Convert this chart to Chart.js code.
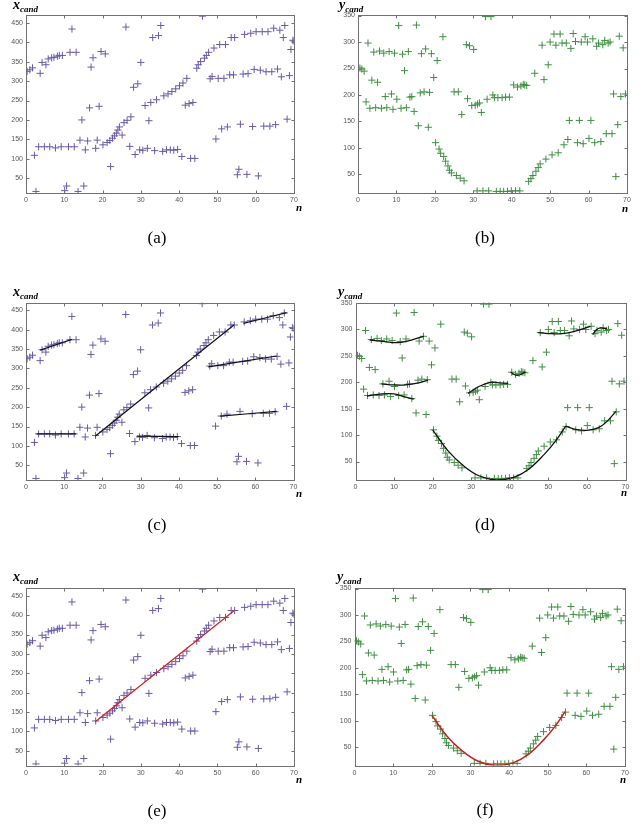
<!DOCTYPE html>
<html>
<head>
<meta charset="utf-8">
<script src="https://cdn.jsdelivr.net/npm/chart.js@4.4.1/dist/chart.umd.min.js"></script>
<style>
body { margin: 0; background: #fff; width: 644px; height: 827px; position: relative; overflow: hidden; }
canvas { position: absolute; }
.lbl { position: absolute; font-family: "Liberation Serif", "DejaVu Serif", serif; font-style: italic; font-weight: bold; color: #000; white-space: nowrap; line-height: 1; }
.lbl.t { font-size: 14px; }
.lbl.t sub { font-size: 9px; vertical-align: -3px; }
.lbl.n { font-size: 11px; }
.cap { position: absolute; font-family: "Liberation Serif", serif; font-size: 17px; transform: translateX(-50%); line-height: 1; }
</style>
</head>
<body>
<canvas id="pa" width="322" height="270" style="left:0;top:0"></canvas>
<canvas id="pb" width="322" height="270" style="left:322px;top:0"></canvas>
<canvas id="pc" width="322" height="270" style="left:0;top:270px"></canvas>
<canvas id="pd" width="322" height="270" style="left:322px;top:270px"></canvas>
<canvas id="pe" width="322" height="287" style="left:0;top:540px"></canvas>
<canvas id="pf" width="322" height="287" style="left:322px;top:540px"></canvas>

<div class="lbl t" style="left:13px;top:-2px">x<sub>cand</sub></div>
<div class="lbl t" style="left:339px;top:-2px">y<sub>cand</sub></div>
<div class="lbl t" style="left:13px;top:285px">x<sub>cand</sub></div>
<div class="lbl t" style="left:338px;top:285px">y<sub>cand</sub></div>
<div class="lbl t" style="left:13px;top:570px">x<sub>cand</sub></div>
<div class="lbl t" style="left:337px;top:570px">y<sub>cand</sub></div>

<div class="lbl n" style="left:296px;top:202px">n</div>
<div class="lbl n" style="left:622px;top:203px">n</div>
<div class="lbl n" style="left:296px;top:488px">n</div>
<div class="lbl n" style="left:621px;top:487px">n</div>
<div class="lbl n" style="left:296px;top:774px">n</div>
<div class="lbl n" style="left:620px;top:774px">n</div>

<div class="cap" style="left:157px;top:229px">(a)</div>
<div class="cap" style="left:485px;top:229px">(b)</div>
<div class="cap" style="left:157px;top:516px">(c)</div>
<div class="cap" style="left:485px;top:516px">(d)</div>
<div class="cap" style="left:157px;top:802px">(e)</div>
<div class="cap" style="left:485px;top:801px">(f)</div>

<script>
/* ================= TICKS ================= */
const nTicks = [0, 10, 20, 30, 40, 50, 60, 70];
const xCandTicks = [50, 100, 150, 200, 250, 300, 350, 400, 450];
const yCandTicks = [50, 100, 150, 200, 250, 300, 350];

/* ================= X CANDIDATES ================= */
const nX = [
    0.3, 1.0, 1.7, 2.2, 2.6, 3.3, 3.7, 4.2, 4.8, 5.2, 5.8, 6.2, 6.7, 7.3, 7.7, 8.2, 8.7, 9.2, 9.5,
    10.1, 10.6, 11.1, 11.5, 12.0, 12.6, 13.1, 13.6, 14.1, 14.6, 15.1, 15.5, 16.1, 16.6, 17.0, 17.5,
    18.2, 18.6, 19.1, 19.6, 20.1, 20.7, 21.2, 21.9, 22.1, 22.6, 23.1, 23.6, 24.0, 24.4, 25.1, 25.6,
    26.1, 26.4, 27.1, 27.4, 28.1, 28.5, 29.2, 29.7, 30.0, 30.5, 31.1, 31.7, 32.1, 32.6, 33.1, 33.6,
    34.1, 34.6, 35.2, 35.7, 36.0, 36.7, 37.1, 37.7, 38.1, 38.6, 39.1, 39.6, 40.1, 40.7, 41.0, 41.6,
    42.0, 42.6, 43.0, 43.6, 44.1, 44.6, 45.0, 45.6, 46.1, 46.6, 47.1, 47.7, 48.1, 48.6, 49.1, 49.6,
    50.2, 50.6, 51.1, 51.7, 52.1, 52.6, 53.2, 53.6, 54.2, 54.5, 55.2, 55.6, 56.0, 56.7, 57.1, 57.7,
    58.0, 58.7, 59.2, 59.6, 60.1, 60.7, 61.2, 61.7, 62.1, 62.7, 63.2, 63.7, 64.2, 64.7, 65.2, 65.7,
    66.3, 66.7, 67.2, 67.6, 68.2, 68.8, 69.2, 69.7, 70.0
];
const xCand = [
    325, 329, 334, 109, 16, 131, 320, 348, 131, 342, 357, 131, 360, 361, 128, 364, 366, 131, 366,
    18, 30, 131, 374, 434, 131, 374, 16, 148, 200, 30, 123, 146, 231, 336, 360,
    127, 148, 235, 376, 136, 370, 142, 147, 80, 153, 159, 166, 174, 182, 161, 193,
    439, 199, 132, 208, 284, 111, 293, 123, 348, 122, 237, 127, 198, 245, 412, 121,
    252, 417, 443, 119, 262, 123, 267, 123, 273, 122, 280, 124, 288, 106, 295, 238,
    307, 242, 101, 245, 101, 333, 342, 350, 467, 359, 366, 374, 306, 312, 385, 151,
    307, 394, 177, 307, 394, 182, 316, 412, 316, 412, 59, 73, 189, 318, 420, 60,
    319, 423, 183, 330, 427, 56, 328, 427, 184, 324, 427, 184, 324, 436, 188, 331,
    431, 311, 412, 443, 202, 314, 381, 405, 403
];

/* ================= Y CANDIDATES ================= */
const nY = [
    0.5, 1.0, 1.6, 2.1, 2.6, 3.1, 3.6, 4.1, 4.6, 5.1, 5.6, 6.1, 6.7, 7.1, 7.5, 8.1, 8.7, 9.1, 9.5,
    10.1, 10.6, 11.2, 11.6, 12.1, 12.6, 13.1, 13.5, 14.0, 14.6, 15.2, 15.7, 16.2, 16.5, 17.2, 17.6,
    18.3, 18.6, 19.1, 19.7, 20.2, 20.6, 21.1, 21.5, 22.1, 22.3, 22.8, 23.4, 23.8, 24.3, 25.0, 25.6,
    26.1, 26.6, 27.0, 27.6, 28.2, 28.5, 29.0, 29.6, 30.1, 30.5, 31.0, 31.1, 31.6, 32.1, 32.5, 33.2,
    33.6, 34.0, 34.6, 35.1, 35.5, 36.0, 36.4, 37.0, 37.5, 37.9, 38.4, 38.9, 39.4, 39.9, 40.5, 41.0,
    41.5, 42.1, 42.4, 43.0, 43.4, 43.9, 44.4, 45.0, 45.5, 46.0, 46.3, 46.9, 47.4, 47.9, 48.4, 48.9,
    49.5, 50.0, 50.5, 51.0, 51.5, 52.1, 52.6, 53.1, 53.6, 54.2, 54.6, 55.0, 55.4, 56.0, 56.6, 57.1,
    57.6, 58.1, 58.6, 59.1, 59.7, 60.1, 60.6, 61.1, 61.6, 62.1, 62.6, 63.2, 63.7, 64.2, 64.6, 65.1,
    65.6, 66.1, 66.5, 67.1, 67.6, 68.0, 68.4, 69.0, 69.6
];
const yCand = [
    251, 249, 245, 187, 298, 175, 228, 281, 176, 224, 283, 175, 279, 197, 176, 282, 202, 173, 279,
    192, 331, 175, 277, 246, 176, 282, 196, 197, 169, 332, 142, 204, 278, 206, 287,
    139, 205, 278, 233, 110, 265, 98, 90, 310, 84, 75, 66, 58, 53, 206, 48,
    206, 43, 163, 38, 295, 193, 293, 180, 286, 181, 19, 183, 185, 167, 19, 348,
    192, 19, 348, 200, 195, 18, 195, 18, 195, 18, 196, 18, 196, 19, 219, 19,
    215, 19, 217, 220, 219, 218, 37, 42, 48, 241, 56, 63, 70, 294, 229, 79,
    257, 300, 87, 315, 294, 91, 315, 298, 106, 298, 116, 152, 288, 316, 301, 110,
    152, 300, 108, 310, 300, 118, 152, 306, 110, 292, 298, 112, 295, 303, 127, 298,
    300, 127, 202, 46, 144, 311, 197, 289, 202
];

/* ================= FITTED LINES (n, value) ================= */
const xLine1 = [[3.7, 347], [12.0, 375]];
const xLine2 = [[2.8, 131], [13.1, 131]];
const xLine3 = [[18.1, 125], [54.4, 412]];
const xLine4 = [[29.0, 125], [39.9, 124]];
const xLine5 = [[47.7, 304], [65.6, 332]];
const xLine6 = [[56.9, 416], [68.2, 444]];
const xLine7 = [[50.8, 177], [65.6, 189]];

const yCurve1 = [[3.7, 280], [7.5, 277], [11.0, 275], [14.5, 280], [17.7, 287]];
const yCurve2 = [[6.7, 197], [10.0, 195], [13.0, 195], [16.4, 199], [18.8, 204]];
const yCurve3 = [[3.0, 174], [6.9, 178], [9.9, 178], [12.5, 173], [15.1, 168]];
const yCurveU = [[20.0, 110], [24.0, 70], [28.0, 42], [32.0, 23], [36.5, 15], [41.0, 20], [45.0, 36], [49.0, 64], [52.0, 90], [54.5, 117]];
const yCurve5 = [[54.5, 117], [57.0, 111], [60.0, 109], [63.0, 114], [65.2, 126], [67.5, 145]];
const yCurve6 = [[29.2, 179], [32.0, 192], [35.0, 200], [37.2, 199], [39.6, 198]];
const yCurve7 = [[40.2, 219], [41.9, 213], [44.1, 219]];
const yCurve8 = [[47.4, 294], [51.0, 292], [53.6, 292], [57.0, 297], [60.9, 306]];
const yCurve9 = [[61.5, 290], [62.4, 299], [63.5, 303], [65.2, 301]];

/* ================= STYLES ================= */
const PURPLE = "#6a5aa6";
const GREEN = "#3f8f42";

/* ================= FRAME + INWARD TICKS ================= */
const boxTicks = {
    id: "boxTicks",
    afterDraw(chart) {
        const { ctx, chartArea: a, scales } = chart;
        const L = Math.round(a.left) + 0.5, R = Math.round(a.right) + 0.5;
        const T = Math.round(a.top) + 0.5, B = Math.round(a.bottom) + 0.5;
        ctx.save();
        ctx.strokeStyle = "#707070";
        ctx.lineWidth = 1;
        ctx.strokeRect(L, T, R - L, B - T);
        ctx.beginPath();
        scales.x.ticks.forEach(t => {
            const px = Math.round(scales.x.getPixelForValue(t.value)) + 0.5;
            ctx.moveTo(px, B); ctx.lineTo(px, B - 3);
            ctx.moveTo(px, T); ctx.lineTo(px, T + 3);
        });
        scales.y.ticks.forEach(t => {
            const py = Math.round(scales.y.getPixelForValue(t.value)) + 0.5;
            ctx.moveTo(L, py); ctx.lineTo(L + 3, py);
            ctx.moveTo(R, py); ctx.lineTo(R - 3, py);
        });
        ctx.stroke();
        ctx.restore();
    }
};

function toPoints(ns, vs) {
    return ns.map((n, i) => ({ x: n, y: vs[i] }));
}

function fitSet(pairs, color, width) {
    return {
        data: pairs.map(p => ({ x: p[0], y: p[1] })),
        showLine: true,
        borderColor: color,
        borderWidth: width,
        pointRadius: 0,
        tension: 0.4,
        order: 0
    };
}

/* ================= ONE PANEL ================= */
function drawPanel(id, area, yMin, yMax, yTicks, points, color, fits) {
    const canvas = document.getElementById(id);
    const W = canvas.width, H = canvas.height;
    const tickFont = { family: "Liberation Sans, Arial, sans-serif", size: 7 };

    const datasets = [{
        data: points,
        pointStyle: "cross",
        pointRadius: 3.6,
        pointBorderWidth: 1,
        borderColor: color,
        backgroundColor: color,
        showLine: false,
        order: 1
    }].concat(fits);

    new Chart(canvas, {
        type: "scatter",
        data: { datasets: datasets },
        options: {
            responsive: false,
            animation: false,
            devicePixelRatio: 1,
            layout: {
                padding: { left: 0, right: W - area.r, top: area.t, bottom: H - area.b - 12 }
            },
            plugins: { legend: { display: false }, tooltip: { enabled: false } },
            scales: {
                x: {
                    type: "linear",
                    min: 0,
                    max: 70,
                    afterBuildTicks: s => { s.ticks = nTicks.map(v => ({ value: v })); },
                    afterFit: s => { s.height = 12; },
                    grid: { display: false, drawTicks: false },
                    border: { display: false },
                    ticks: { font: tickFont, color: "#555", padding: 3, maxRotation: 0 }
                },
                y: {
                    type: "linear",
                    min: yMin,
                    max: yMax,
                    afterBuildTicks: s => { s.ticks = yTicks.map(v => ({ value: v })); },
                    afterFit: s => { s.width = area.l; },
                    grid: { display: false, drawTicks: false },
                    border: { display: false },
                    ticks: { font: tickFont, color: "#555", padding: 3 }
                }
            }
        },
        plugins: [boxTicks]
    });
}

/* ================= BUILD ================= */
const xPts = toPoints(nX, xCand);
const yPts = toPoints(nY, yCand);

drawPanel("pa", { l: 26, r: 294, t: 15, b: 193 }, 12, 470, xCandTicks, xPts, PURPLE, []);
drawPanel("pb", { l: 36, r: 305, t: 15, b: 193 }, 15, 351, yCandTicks, yPts, GREEN, []);

drawPanel("pc", { l: 26, r: 293.5, t: 32.5, b: 210 }, 12, 470, xCandTicks, xPts, PURPLE,
    [xLine1, xLine2, xLine3, xLine4, xLine5, xLine6, xLine7].map(l => fitSet(l, "#111", 1.2)));
drawPanel("pd", { l: 33.5, r: 303.5, t: 32.5, b: 210 }, 15, 351, yCandTicks, yPts, GREEN,
    [yCurve1, yCurve2, yCurve3, yCurveU, yCurve5, yCurve6, yCurve7, yCurve8, yCurve9].map(c => fitSet(c, "#111", 1.3)));

drawPanel("pe", { l: 26, r: 294, t: 48, b: 225.5 }, 12, 470, xCandTicks, xPts, PURPLE,
    [fitSet(xLine3, "#d42020", 1.2)]);
drawPanel("pf", { l: 32.5, r: 303, t: 48, b: 225.5 }, 15, 351, yCandTicks, yPts, GREEN,
    [fitSet(yCurveU, "#c42020", 1.5)]);
</script>
</body>
</html>
